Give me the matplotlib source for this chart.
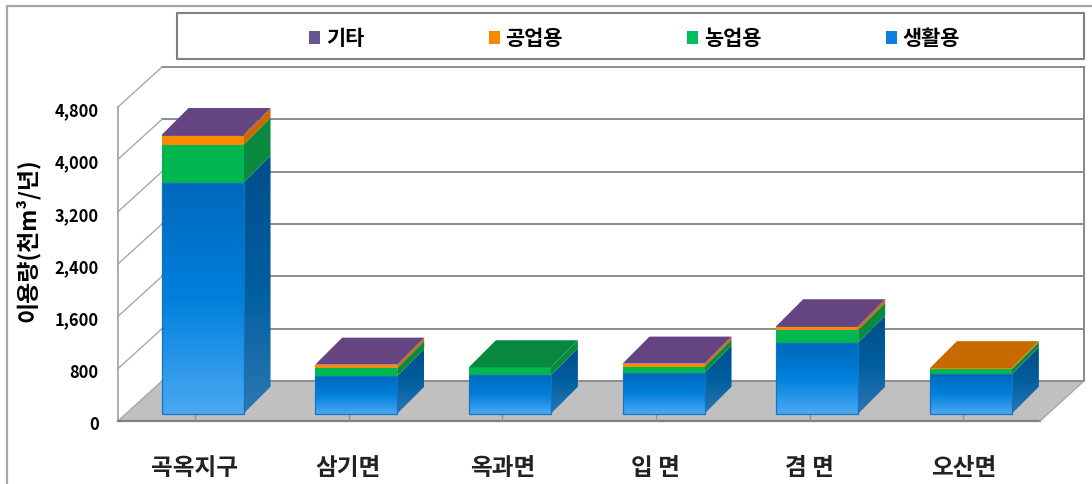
import numpy as np
import matplotlib
matplotlib.use("Agg")
import matplotlib.pyplot as plt
from matplotlib.colors import LinearSegmentedColormap
from matplotlib.lines import Line2D
from matplotlib.patches import Polygon, Rectangle
from matplotlib.transforms import ScaledTranslation

plt.rcParams['font.family'] = ['Noto Sans CJK KR', 'DejaVu Sans']

categories = ['곡옥지구', '삼기면', '옥과면', '입 면', '겸 면', '오산면']
living = [3530, 577, 590, 628, 1087, 603]
farming = [580, 118, 120, 92, 195, 81]
industry = [142, 50, 0, 41, 50, 12]
other = [8, 5, 0, 5, 5, 0]
series_names = ['생활용', '농업용', '공업용', '기타']
y_ticks = [0, 800, 1600, 2400, 3200, 4000, 4800]

W, H = 1092, 484
AX_L, AX_R, AX_T, AX_B = 118, 1040, 107, 421
YMAX = 4800
px_x = (AX_R - AX_L) / len(categories)
px_y = (AX_B - AX_T) / YMAX


def ux(p):
    return p / px_x


def uy(p):
    return p / px_y


WALL_DX, WALL_DY = ux(44), uy(40)
BAR_W = ux(82)
BAR_SHIFT = ux(7.7)
BAR_BASE = uy(7.3)
SIDE_DX, SIDE_DY = ux(27), uy(27)

FRONT = {'농업용': '#00B84F', '공업용': '#FB8A00', '기타': '#6A5095'}
SIDE = {'농업용': '#0A8A3E', '공업용': '#C96A00', '기타': '#5A3F7E'}
TOP = {'생활용': '#0060A8', '농업용': '#07883F', '공업용': '#C86A00', '기타': '#654482'}
LEGEND = {'생활용': '#0F7FDC', '농업용': '#00BE62', '공업용': '#F58A00', '기타': '#685596'}
GRID = '#8C8C8C'

front_cmap = LinearSegmentedColormap.from_list('f', ['#0068BC', '#0080DC', '#4BA8F2'])
side_cmap = LinearSegmentedColormap.from_list('s', ['#004E8C', '#005E9E', '#2C78B4'])
grad = np.linspace(0, 1, 128).reshape(-1, 1)

fig = plt.figure(figsize=(W / 100, H / 100), dpi=100, facecolor='white')
ax = fig.add_axes([AX_L / W, 1 - AX_B / H, (AX_R - AX_L) / W, (AX_B - AX_T) / H])
ax.patch.set_alpha(0)
for s in ax.spines.values():
    s.set_visible(False)

n = len(categories)
ax.add_patch(Polygon([(0, 0), (n, 0), (n + WALL_DX, WALL_DY), (WALL_DX, WALL_DY)],
                     closed=True, fc='#C0C0C0', ec='none', zorder=1, clip_on=False))
for v in y_ticks:
    ax.add_line(Line2D([WALL_DX, n + WALL_DX], [v + WALL_DY] * 2, color=GRID, lw=1.4,
                       zorder=1.5, clip_on=False))
    ax.add_line(Line2D([0, WALL_DX], [v, v + WALL_DY], color='#A8A8A8', lw=1.0,
                       zorder=1.5, clip_on=False))
ax.add_line(Line2D([0, 0], [0, YMAX], color='#A0A0A0', lw=1.2, zorder=1.6, clip_on=False))
ax.add_line(Line2D([n + WALL_DX] * 2, [WALL_DY, YMAX + WALL_DY], color='#8C8C8C', lw=1.5,
                   zorder=1.6, clip_on=False))
ax.add_line(Line2D([0, n], [0, 0], color='#808080', lw=1.6, zorder=1.7, clip_on=False))
ax.add_line(Line2D([n, n + WALL_DX], [0, WALL_DY], color='#A8A8A8', lw=1.0, zorder=1.7, clip_on=False))

stacks = {'생활용': living, '농업용': farming, '공업용': industry, '기타': other}
for i in range(n):
    x0 = i + 0.5 - BAR_W / 2 + BAR_SHIFT
    x1 = x0 + BAR_W
    base = BAR_BASE
    top_name = '생활용'
    for name in series_names:
        val = stacks[name][i]
        if val <= 0:
            continue
        y0, y1 = base, base + val
        side_pts = [(x1, y0), (x1 + SIDE_DX, y0 + SIDE_DY),
                    (x1 + SIDE_DX, y1 + SIDE_DY), (x1, y1)]
        if name == '생활용':
            clip = Polygon(side_pts, closed=True, transform=ax.transData, fc='none', ec='none')
            ax.add_patch(clip)
            im = ax.imshow(grad, cmap=side_cmap, aspect='auto', zorder=3,
                           extent=[x1, x1 + SIDE_DX, y0, y1 + SIDE_DY], origin='upper')
            im.set_clip_path(clip)
            ax.imshow(grad, cmap=front_cmap, aspect='auto', zorder=3.2,
                      extent=[x0, x1, y0, y1], origin='upper')
            ax.add_patch(Rectangle((x0, y0), x1 - x0, y1 - y0, fc='none', ec='#1273C4',
                                   lw=0.9, zorder=3.3))
        else:
            ax.add_patch(Polygon(side_pts, closed=True, fc=SIDE[name], ec='none', zorder=3))
            ax.add_patch(Rectangle((x0, y0), x1 - x0, y1 - y0, fc=FRONT[name], ec='none', zorder=3.2))
        base = y1
        top_name = name
    ax.add_patch(Polygon([(x0, base), (x1, base), (x1 + SIDE_DX, base + SIDE_DY),
                          (x0 + SIDE_DX, base + SIDE_DY)], closed=True,
                         fc=TOP[top_name], ec='none', zorder=3.4))

ax.set_xlim(0, n)
ax.set_ylim(0, YMAX)
ax.set_xticks(np.arange(n) + 0.5)
ax.set_xticklabels(categories, fontsize=17, fontweight='bold', color='#222222')
ax.tick_params(axis='x', direction='in', length=5, width=0.9, color='#909090', pad=25)
ax.set_yticks(y_ticks)
ax.set_yticklabels([f'{v:,}' for v in y_ticks], fontsize=11.8, fontweight='bold')
ax.tick_params(axis='y', length=0, pad=14)
shift = ScaledTranslation(0, -1.5 / 72, fig.dpi_scale_trans)
for lab in ax.get_yticklabels():
    lab.set_transform(lab.get_transform() + shift)
ax.set_axisbelow(False)
ax.set_ylabel('이용량(천m³/년)', fontsize=16.5, fontweight='bold', va='center')
ax.yaxis.set_label_coords((28 - AX_L) / (AX_R - AX_L), (AX_B - 240) / (AX_B - AX_T))

# legend frame and outer frame
fig.add_artist(Rectangle((177 / W, 1 - 59 / H), (1084 - 177) / W, (59 - 13.5) / H,
                         transform=fig.transFigure, fc='white', ec='#808080', lw=1.5, zorder=-1))
fig.add_artist(Line2D([7 / W, 7 / W, 1], [0, 1 - 6 / H, 1 - 6 / H], transform=fig.transFigure,
                      color='#A6A6A6', lw=1.6, zorder=-1))

handles = [Rectangle((0, 0), 1, 1, fc=LEGEND[k], ec='none') for k in reversed(series_names)]
leg = ax.legend(handles, list(reversed(series_names)), ncol=4, loc='center',
                bbox_to_anchor=(634.5 / W, 1 - 38.5 / H), bbox_transform=fig.transFigure,
                frameon=False, borderpad=0, borderaxespad=0, columnspacing=5.97,
                handlelength=0.53, handleheight=0.62, handletextpad=0.27,
                prop={'size': 15, 'weight': 'bold'})
leg.set_zorder(10)

fig.savefig('out.png', dpi=100, facecolor='white')
